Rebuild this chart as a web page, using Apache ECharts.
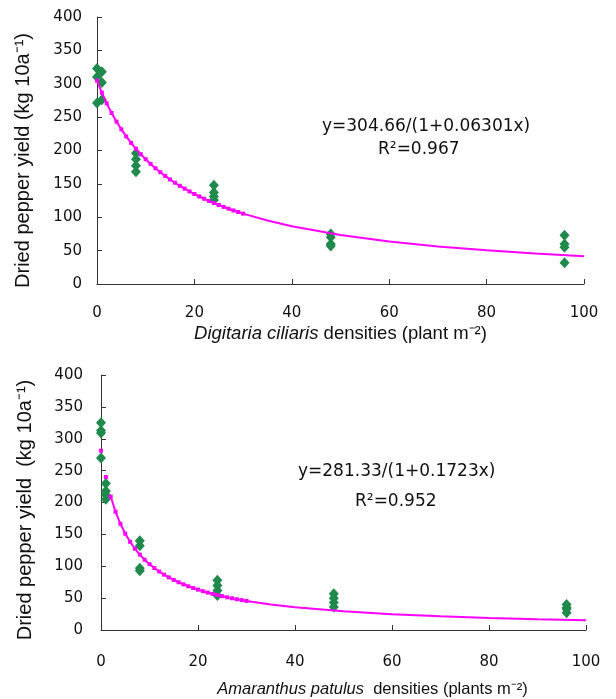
<!DOCTYPE html>
<html lang="en">
<head>
    <meta charset="UTF-8">
    <title>Dried pepper yield vs weed density</title>
    <script type="text/javascript" src="https://cdn.jsdelivr.net/npm/echarts@6/dist/echarts.min.js"></script>
    <style type="text/css">
        html, body { margin: 0; padding: 0; background: #fff; }
        #chart { width: 616px; height: 699px; }
    </style>
</head>
<body>
<div id="chart"></div>
<script type="text/javascript">
    // observed yields (kg 10a-1) at each weed density (plants m-2)
    const digitariaDensity = [0, 0, 0, 1, 1, 1, 8, 8, 8, 8, 24, 24, 24, 24, 48, 48, 48, 48, 96, 96, 96, 96];
    const digitariaYield = [323, 310, 271, 318, 302, 276, 196, 187, 177, 168, 148, 137, 131, 126, 75, 70, 60, 57, 73, 60, 55, 32];

    const amaranthusDensity = [0, 0, 0, 0, 1, 1, 1, 1, 8, 8, 8, 8, 24, 24, 24, 24, 48, 48, 48, 48, 96, 96, 96, 96];
    const amaranthusYield = [325, 313, 309, 270, 230, 218, 212, 205, 140, 132, 97, 93, 78, 70, 62, 54, 57, 50, 43, 36, 40, 35, 33, 27];

    // fitted curves (markers drawn up to density 30)
    const fitDensity = [0, 1, 2, 3, 4, 5, 6, 7, 8, 9, 10, 11, 12, 13, 14, 15, 16, 17, 18, 19, 20,
        21, 22, 23, 24, 25, 26, 27, 28, 29, 30, 35, 40, 50, 60, 70, 80, 90, 100];
    const digitariaFit = [304.7, 286.6, 270.6, 256.2, 243.3, 231.7, 221.1, 211.4, 202.6, 194.4, 186.9,
        179.9, 173.5, 167.5, 161.9, 156.6, 151.7, 147.1, 142.8, 138.7, 134.8,
        131.1, 127.7, 124.4, 121.3, 118.3, 115.5, 112.8, 110.2, 107.8, 105.4,
        95.1, 86.5, 73.4, 63.7, 56.3, 50.4, 45.7, 41.7];
    const amaranthusFit = [281.3, 240.0, 209.2, 185.5, 166.6, 151.1, 138.3, 127.5, 118.3, 110.3, 103.3,
        97.2, 91.7, 86.8, 82.5, 78.5, 74.9, 71.6, 68.6, 65.8, 63.3,
        60.9, 58.7, 56.7, 54.8, 53.0, 51.3, 49.8, 48.3, 46.9, 45.6,
        40.0, 35.7, 29.3, 24.8, 21.5, 19.0, 17.0, 15.4];
    // the amaranthus curve is not joined between its first three points
    const amaranthusBreaks = [1, 2];
    const markerUpTo = 30;

    const xTicks = [0, 20, 40, 60, 80, 100];
    const yTicks = [0, 50, 100, 150, 200, 250, 300, 350, 400];

    const numFont = 'DejaVu Sans';
    const textFont = 'Liberation Sans';

    function pairs(xs, ys) {
        return xs.map((x, i) => [x, ys[i]]);
    }

    function fitData(xs, ys, breaks) {
        let out = [];
        xs.forEach((x, i) => {
            if (breaks.indexOf(i) >= 0) {
                out.push([x, '-']);
            }
            out.push({value: [x, ys[i]], symbol: x <= markerUpTo ? 'rect' : 'none'});
        });
        return out;
    }

    function xAxisOf(gridIndex, name, labelMargin, nameGap, nameSize, namePad) {
        return {
            type: 'value',
            gridIndex: gridIndex,
            min: xTicks[0],
            max: xTicks[xTicks.length - 1],
            interval: xTicks[1] - xTicks[0],
            splitLine: {show: false},
            axisLine: {lineStyle: {color: '#333', width: 1}},
            axisTick: {inside: true, length: 5, lineStyle: {color: '#333'}},
            axisLabel: {margin: labelMargin, color: '#111', fontFamily: numFont, fontSize: 15},
            name: name,
            nameLocation: 'middle',
            nameGap: nameGap,
            nameTextStyle: {
                color: '#111', fontFamily: textFont, fontSize: nameSize, padding: namePad,
                rich: {
                    i: {fontStyle: 'italic', fontFamily: textFont, fontSize: nameSize, color: '#111'}
                }
            }
        };
    }

    function yAxisOf(gridIndex, name, labelMargin, nameGap, namePad) {
        return {
            type: 'value',
            gridIndex: gridIndex,
            min: yTicks[0],
            max: yTicks[yTicks.length - 1],
            interval: yTicks[1] - yTicks[0],
            splitLine: {show: false},
            axisLine: {show: true, lineStyle: {color: '#333', width: 1}},
            axisTick: {show: true, inside: true, length: 5, lineStyle: {color: '#333'}},
            axisLabel: {margin: labelMargin, color: '#111', fontFamily: numFont, fontSize: 15},
            name: name,
            nameLocation: 'middle',
            nameGap: nameGap,
            nameTextStyle: {color: '#111', fontFamily: textFont, fontSize: 20, padding: namePad}
        };
    }

    const chart = echarts.init(document.getElementById('chart'), null, {renderer: 'canvas'});

    const option = {
        animation: false,
        backgroundColor: '#fff',
        grid: [
            {left: 97, right: 32, top: 17, height: 267},
            {left: 101, right: 30, top: 375, height: 255}
        ],
        xAxis: [
            xAxisOf(0, '{i|Digitaria ciliaris} densities (plant m\u207B\u00B2)', 22, 40, 18.5, [0, 0, 0, 0]),
            xAxisOf(1, '{i|Amaranthus patulus}  densities (plants m\u207B\u00B2)', 25, 51, 16.5, [0, 0, 0, 58])
        ],
        yAxis: [
            yAxisOf(0, 'Dried pepper yield (kg 10a\u207B\u00B9)', 15, 64, [0, 20, 0, 0]),
            yAxisOf(1, 'Dried pepper yield  (kg 10a\u207B\u00B9)', 18, 66, [0, 15, 0, 0])
        ],
        series: [
            {
                type: 'scatter', xAxisIndex: 0, yAxisIndex: 0,
                data: pairs(digitariaDensity, digitariaYield),
                symbol: 'diamond', symbolSize: [10, 11],
                itemStyle: {color: '#1f8a4c', opacity: 1}
            },
            {
                type: 'line', xAxisIndex: 0, yAxisIndex: 0,
                data: fitData(fitDensity, digitariaFit, []),
                symbolSize: 4, showSymbol: true,
                lineStyle: {color: '#ff00ff', width: 2},
                itemStyle: {color: '#ff00ff'}
            },
            {
                type: 'scatter', xAxisIndex: 1, yAxisIndex: 1,
                data: pairs(amaranthusDensity, amaranthusYield),
                symbol: 'diamond', symbolSize: [10, 11],
                itemStyle: {color: '#1f8a4c', opacity: 1}
            },
            {
                type: 'line', xAxisIndex: 1, yAxisIndex: 1,
                data: fitData(fitDensity, amaranthusFit, amaranthusBreaks),
                symbolSize: 4, showSymbol: true, connectNulls: false,
                lineStyle: {color: '#ff00ff', width: 2},
                itemStyle: {color: '#ff00ff'}
            }
        ],
        graphic: [
            {type: 'text', left: 322, top: 118, style: {text: 'y=304.66/(1+0.06301x)', font: '17px "DejaVu Sans"', fill: '#111'}},
            {type: 'text', left: 378, top: 141, style: {text: 'R\u00B2=0.967', font: '17px "DejaVu Sans"', fill: '#111'}},
            {type: 'text', left: 298, top: 463, style: {text: 'y=281.33/(1+0.1723x)', font: '17px "DejaVu Sans"', fill: '#111'}},
            {type: 'text', left: 355, top: 493, style: {text: 'R\u00B2=0.952', font: '17px "DejaVu Sans"', fill: '#111'}}
        ]
    };

    chart.setOption(option);
</script>
</body>
</html>
